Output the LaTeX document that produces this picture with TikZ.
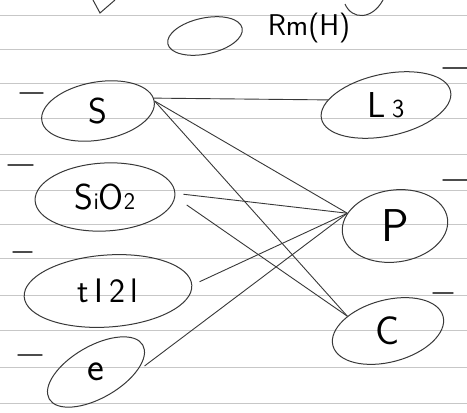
\documentclass[tikz,border=0pt]{standalone}
\usetikzlibrary{shapes.geometric}
\tikzset{
  pen/.style={draw=black!78, line width=1pt},
  bubble/.style={pen, ellipse, inner sep=0pt},
  link/.style={pen, line width=0.9pt},
  rule/.style={draw=black!22, line width=0.6pt},
  tick/.style={draw=black!70, line width=1.4pt, line cap=round},
  hand/.style={font=\sffamily\fontsize{#1}{#1}\selectfont},
}

\begin{document}
\begin{tikzpicture}[x=1pt,y=-1pt]
\useasboundingbox (0,0) rectangle (467,413);
% ruled paper
\foreach \y in {15,49,83,118,154,190,224,258,295,330,367,403}
  \draw[rule] (0,\y) -- (467,\y);
% margin ticks
\foreach \xa/\xb/\y in {20/43/93, 8/33/165, 13/32/252, 18/42/355, 443/467/68, 443/467/180, 433/453/293}
  \draw[tick] (\xa,\y) -- (\xb,\y);
% strokes from the line above
\draw[pen] (93,0) -- (100,13) -- (115,0);
\draw[pen] (345,4) .. controls (352,20) and (372,20) .. (383,0);

% top
\node[bubble, rotate=12, minimum width=76pt, minimum height=36pt] (blank) at (205,36) {};
\node[hand=30] (rm) at (309,28) {Rm(H)};

% left column
\node[bubble, hand=36, rotate=10, minimum width=114pt, minimum height=58pt] (S) at (98,111) {\rotatebox{-10}{S}};
\node[bubble, hand=36, rotate=3, minimum width=140pt, minimum height=68pt] (SiO2) at (105,197)
  {\rotatebox{-3}{S{\fontsize{24}{24}\selectfont i}O{\fontsize{24}{24}\selectfont 2}}};
\node[bubble, hand=34, rotate=4, minimum width=168pt, minimum height=72pt] (tI2l) at (108,291) {\rotatebox{-4}{t\,I\,2\,l}};
\node[bubble, hand=40, rotate=30, minimum width=108pt, minimum height=52pt] (e) at (96,372) {\rotatebox{-30}{e}};

% right column
\node[bubble, hand=36, rotate=12, minimum width=132pt, minimum height=62pt] (L3) at (386,105)
  {\rotatebox{-12}{L\,{\fontsize{26}{26}\selectfont 3}}};
\node[bubble, hand=46, rotate=8, minimum width=106pt, minimum height=72pt] (P) at (395,226) {\rotatebox{-8}{P}};
\node[bubble, hand=40, rotate=15, minimum width=114pt, minimum height=62pt] (C) at (388,331) {\rotatebox{-15}{C}};

% links
\draw[link] (S.3) -- (L3.163);
\draw[link] (S.0) -- (P.157);
\draw[link] (S.0) -- (C.145);
\draw[link, shorten <=8pt] (SiO2.east) -- (P.157);
\draw[link, shorten <=14pt] (SiO2.-3) -- (C.145);
\draw[link, shorten <=8pt] (tI2l.east) -- (P.157);
\draw[link, shorten <=10pt] (e.-30) -- (P.157);
\end{tikzpicture}
\end{document}
